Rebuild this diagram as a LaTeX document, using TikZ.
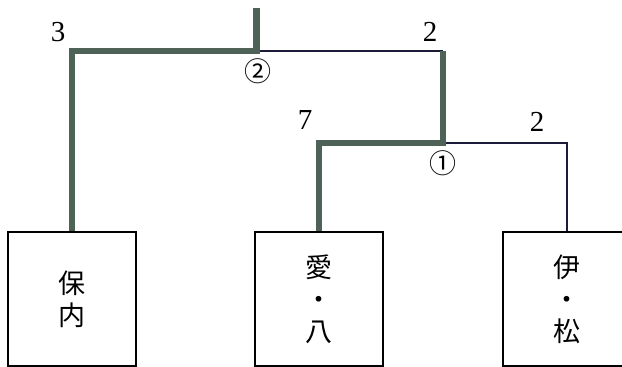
\documentclass[tikz,border=0pt]{standalone}
\usepackage{fontspec}
\setmainfont{Liberation Serif}
\newfontfamily\jpfont{Noto Sans CJK JP}
\definecolor{winline}{RGB}{78,98,88}
\definecolor{loseline}{RGB}{28,28,58}
\tikzset{
	team/.style={draw=black,line width=1.8pt,minimum width=128pt,minimum height=134pt,align=center,
		font=\jpfont\fontsize{27}{32}\selectfont},
	won/.style={draw=winline,line width=6.5pt},
	lost/.style={draw=loseline,line width=2pt},
	score/.style={font=\fontsize{29}{29}\selectfont},
	game/.style={font=\jpfont\fontsize{27}{27}\selectfont},
}
\begin{document}
\begin{tikzpicture}[x=1pt,y=-1pt]
	\useasboundingbox (0,0) rectangle (622,367);
	\clip (0,0) rectangle (622,367);
	
	% teams
	\node[team] (hono) at (72,299) {保\\内};
	\node[team] (aihachi) at (319,299) {愛\\・\\八};
	\node[team] (imatsu) at (567,299) {伊\\・\\松};
	
	% junctions
	\coordinate (top) at (256.5,8);
	\coordinate (m2) at (256.5,51);
	\coordinate (r2) at (443,51);
	\coordinate (m1) at (443,143);
	
	% losing lines
	\draw[lost] (m2) -- (r2);
	\draw[lost] (m1) -| (imatsu.north);
	
	% winning lines
	\draw[won] (hono.north) |- (m2) -- (top);
	\draw[won] (aihachi.north) |- (m1) -- (r2);
	
	% scores and games
	\node[score] (s3) at (58,32) {3};
	\node[score] (s2a) at (430,32) {2};
	\node[score] (s7) at (305,120) {7};
	\node[score] (s2b) at (537,122) {2};
	\node[game] (g2) at (258,71) {②};
	\node[game] (g1) at (443,163) {①};
\end{tikzpicture}
\end{document}
